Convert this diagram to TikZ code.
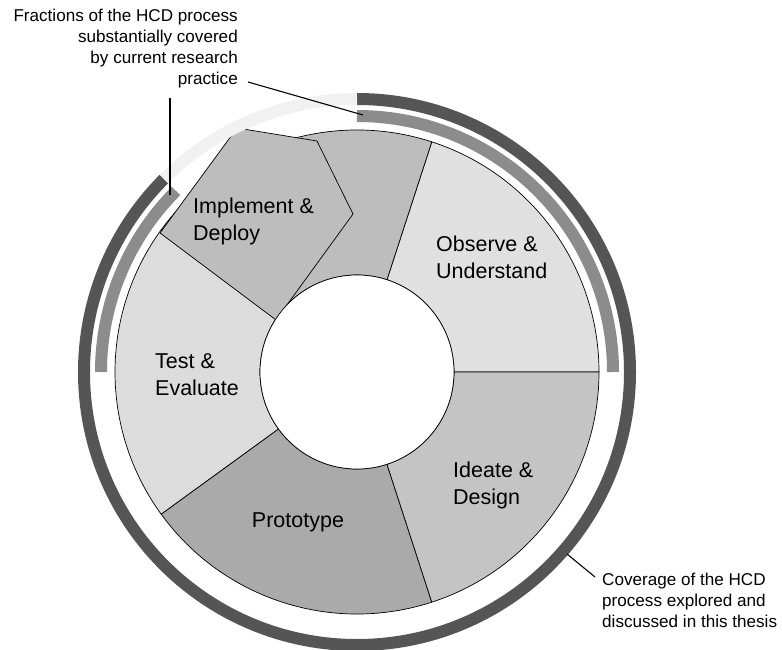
\documentclass[tikz,border=0pt]{standalone}
\usepackage{fontspec}
\setmainfont{Liberation Sans}
\definecolor{obsC}{HTML}{E0E0E0}
\definecolor{testC}{HTML}{DCDCDC}
\definecolor{implC}{HTML}{BDBDBD}
\definecolor{ideaC}{HTML}{C4C4C4}
\definecolor{protC}{HTML}{AAAAAA}
\definecolor{darkC}{HTML}{555555}
\definecolor{medC}{HTML}{8C8C8C}
\definecolor{lightC}{HTML}{F1F1F1}
\begin{document}
\begin{tikzpicture}[x=1pt,y=1pt,
  seg/.style={draw=black, line width=0.7pt},
  lbl/.style={font=\fontsize{21.5}{27}\selectfont, align=left, anchor=west, inner sep=0pt},
  note/.style={font=\fontsize{17.1}{21}\selectfont, inner sep=0pt},
  ring/.style={line width=12pt},
  callout/.style={draw=black, line width=1.1pt}]
\useasboundingbox (0,0) rectangle (782,-650);
\fill[white] (0,0) rectangle (782,-650);
\coordinate (c) at (357,-372);
% sectors
\filldraw[seg, fill=obsC] ([shift={(0:97)}]c) -- ([shift={(0:242)}]c) arc[start angle=0,end angle=72,radius=242] -- ([shift={(72:97)}]c) arc[start angle=72,end angle=0,radius=97] -- cycle;
\filldraw[seg, fill=implC] ([shift={(72:97)}]c) -- ([shift={(72:242)}]c) arc[start angle=72,end angle=144,radius=242] -- ([shift={(144:97)}]c) arc[start angle=144,end angle=72,radius=97] -- cycle;
\filldraw[seg, fill=testC] ([shift={(144:97)}]c) -- ([shift={(144:242)}]c) arc[start angle=144,end angle=216,radius=242] -- ([shift={(216:97)}]c) arc[start angle=216,end angle=144,radius=97] -- cycle;
\filldraw[seg, fill=protC] ([shift={(216:97)}]c) -- ([shift={(216:242)}]c) arc[start angle=216,end angle=288,radius=242] -- ([shift={(288:97)}]c) arc[start angle=288,end angle=216,radius=97] -- cycle;
\filldraw[seg, fill=ideaC] ([shift={(288:97)}]c) -- ([shift={(288:242)}]c) arc[start angle=288,end angle=360,radius=242] -- ([shift={(360:97)}]c) arc[start angle=360,end angle=288,radius=97] -- cycle;
% popped-out pentagon
\filldraw[seg, fill=implC] (160,-233) -- (237,-128) -- (317,-141) -- (353,-214) -- (276,-320) -- cycle;
% inner hole
\filldraw[seg, fill=white] (c) circle[radius=97];
% rings
\draw[ring, darkC] ([shift={(90:273)}]c) arc[start angle=90,end angle=-225,radius=273];
\draw[ring, lightC] ([shift={(90:273)}]c) arc[start angle=90,end angle=135,radius=273];
\draw[ring, medC] ([shift={(0:256)}]c) arc[start angle=0,end angle=90,radius=256];
\draw[ring, medC] ([shift={(135:256)}]c) arc[start angle=135,end angle=180,radius=256];
% labels
\node[lbl] (impl) at (193,-221) {Implement \&\\Deploy};
\node[lbl] (obs) at (436,-257.5) {Observe \&\\Understand};
\node[lbl] (test) at (155,-374.5) {Test \&\\Evaluate};
\node[lbl] (idea) at (453,-485) {Ideate \&\\Design};
\node[lbl, anchor=center] (prot) at (298,-522) {Prototype};
% notes
\node[note, align=right, anchor=north east] (frac) at (238,-9) {Fractions of the HCD process\\substantially covered\\by current research\\practice};
\node[note, align=left, anchor=north west] (cov) at (602,-573) {Coverage of the HCD\\process explored and\\discussed in this thesis};
% callouts
\coordinate (fA) at (248,-82);
\coordinate (fB) at (363,-115);
\coordinate (vA) at (170,-98);
\coordinate (vB) at (170,-195);
\coordinate (cA) at (567,-554);
\coordinate (cB) at (595,-577);
\draw[callout] (fA) -- (fB);
\draw[callout] (vA) -- (vB);
\draw[callout] (cA) -- (cB);
\end{tikzpicture}
\end{document}
